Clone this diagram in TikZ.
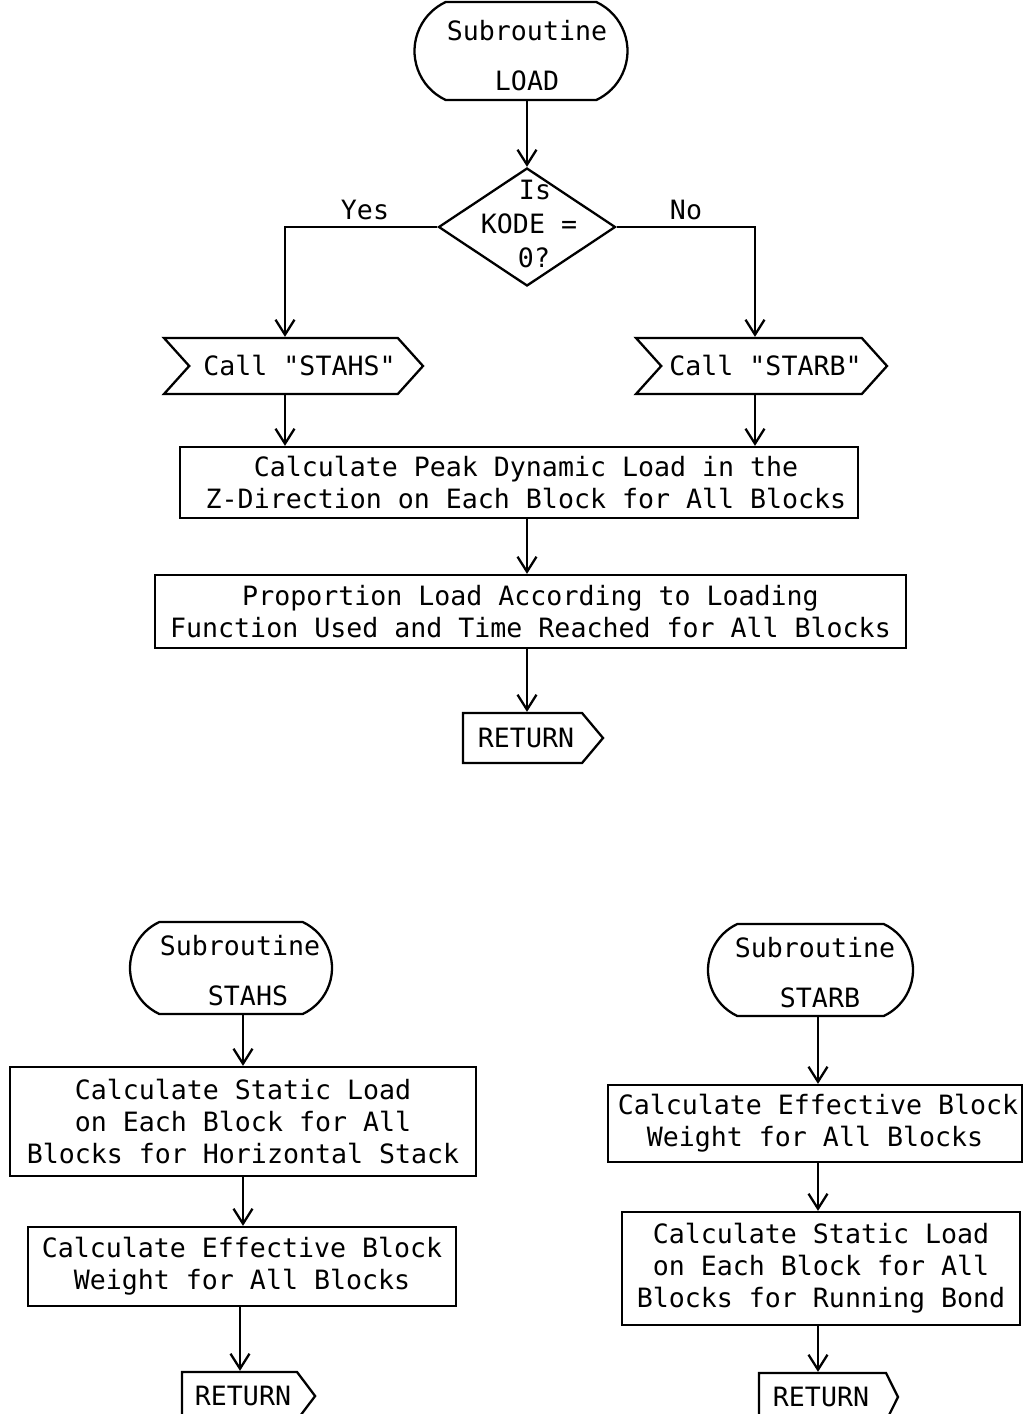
\documentclass[tikz,border=0pt]{standalone}
\usepackage{fontspec}
\newfontfamily\flowfont{DejaVu Sans Mono}
\usetikzlibrary{arrows.meta,shapes.geometric,shapes.misc,shapes.symbols}
\begin{document}
\begin{tikzpicture}[x=1pt,y=-1pt,
  line width=2.3pt,
  every node/.style={font=\flowfont\fontsize{26.6}{32}\selectfont, inner sep=0pt},
  arr/.style={-{Straight Barb[length=15pt,width=19pt,line width=2.3pt]}},
  terminal/.style={draw, rounded rectangle, rounded rectangle arc length=130},
  process/.style={draw, rectangle, align=center},
  callbox/.style={draw, signal, signal to=east, signal from=west, signal pointer angle=96, minimum height=56pt},
  retbox/.style={draw, signal, signal to=east, signal from=nowhere},
  ttext/.style={align=center, font=\flowfont\fontsize{26.6}{50}\selectfont}
]
\clip (0,0) rectangle (1024,1414);
\fill[white] (0,0) rectangle (1024,1414);

% ---- Subroutine LOAD ----
\node[terminal, minimum width=213pt, minimum height=98pt] (t1) at (521,51) {};
\node[ttext] (t1txt) at (527,56) {Subroutine\\LOAD};
\node[draw, diamond, minimum width=177pt, minimum height=118pt] (d) at (527,227) {};
\node[align=center, font=\flowfont\fontsize{26.6}{34}\selectfont] (dq) at (529,224) {\hspace*{12pt}Is\\KODE =\\\hspace*{10pt}0?};
\node[callbox, minimum width=259pt] (c1) at (293.5,366) {\hspace*{12pt}Call "STAHS"};
\node[callbox, minimum width=251pt] (c2) at (761.5,366) {\hspace*{8pt}Call "STARB"};
\node[process, minimum width=678pt, minimum height=71pt] (b1) at (519,482.5)
  {\hspace*{14pt}Calculate Peak Dynamic Load in the\\\hspace*{14pt}Z-Direction on Each Block for All Blocks};
\node[process, minimum width=751pt, minimum height=73pt] (b2) at (530.5,611.5)
  {Proportion Load According to Loading\\Function Used and Time Reached for All Blocks};
\node[retbox, minimum height=50pt, signal pointer angle=100] (r1) at (522.5,738) {\hspace*{15pt}RETURN\hspace*{8pt}};

\node (yes) at (365,210) {Yes};
\node (no) at (686,210) {No};

\draw[arr] (d.north |- t1.south) -- (d.north);
\draw[arr] (d.west) -| ([xshift=-8.5pt]c1.north);
\draw[arr] (d.east) -| ([xshift=-6.5pt]c2.north);
\draw[arr] ([xshift=-8.5pt]c1.south) -- ([xshift=-8.5pt]c1.south |- b1.north);
\draw[arr] ([xshift=-6.5pt]c2.south) -- ([xshift=-6.5pt]c2.south |- b1.north);
\draw[arr] ([xshift=8pt]b1.south) -- ([xshift=8pt]b1.south |- b2.north);
\draw[arr] ([xshift=-3.5pt]b2.south) -- ([xshift=-3.5pt]b2.south |- r1.north);

% ---- Subroutine STAHS ----
\node[terminal, minimum width=202pt, minimum height=92pt] (t2) at (231,968) {};
\node[ttext] (t2txt) at (240,971) {Subroutine\\\hspace*{16pt}STAHS};
\node[process, minimum width=466pt, minimum height=109pt] (l1) at (243,1121.5)
  {Calculate Static Load\\on Each Block for All\\Blocks for Horizontal Stack};
\node[process, minimum width=428pt, minimum height=79pt] (l2) at (242,1266.5)
  {Calculate Effective Block\\Weight for All Blocks};
\node[retbox, minimum height=48pt, signal pointer angle=106] (r2) at (239.5,1396) {\hspace*{13pt}RETURN\hspace*{6pt}};

\draw[arr] ([xshift=12pt]t2.south) -- ([xshift=12pt]t2.south |- l1.north);
\draw[arr] (l1.south) -- (l1.south |- l2.north);
\draw[arr] ([xshift=-2pt]l2.south) -- ([xshift=-2pt]l2.south |- r2.north);

% ---- Subroutine STARB ----
\node[terminal, minimum width=205pt, minimum height=92pt] (t3) at (810.5,970) {};
\node[ttext] (t3txt) at (815,973) {Subroutine\\\hspace*{10pt}STARB};
\node[process, minimum width=414pt, minimum height=77pt] (rr1) at (815,1123.5)
  {\hspace*{6pt}Calculate Effective Block\\Weight for All Blocks};
\node[process, minimum width=398pt, minimum height=113pt] (rr2) at (821,1268.5)
  {Calculate Static Load\\on Each Block for All\\Blocks for Running Bond};
\node[retbox, minimum height=48pt, signal pointer angle=127] (r3) at (822.5,1397) {\hspace*{14pt}RETURN\hspace*{17pt}};

\draw[arr] ([xshift=7.5pt]t3.south) -- ([xshift=7.5pt]t3.south |- rr1.north);
\draw[arr] ([xshift=3pt]rr1.south) -- ([xshift=3pt]rr1.south |- rr2.north);
\draw[arr] ([xshift=-3pt]rr2.south) -- ([xshift=-3pt]rr2.south |- r3.north);
\end{tikzpicture}
\end{document}
